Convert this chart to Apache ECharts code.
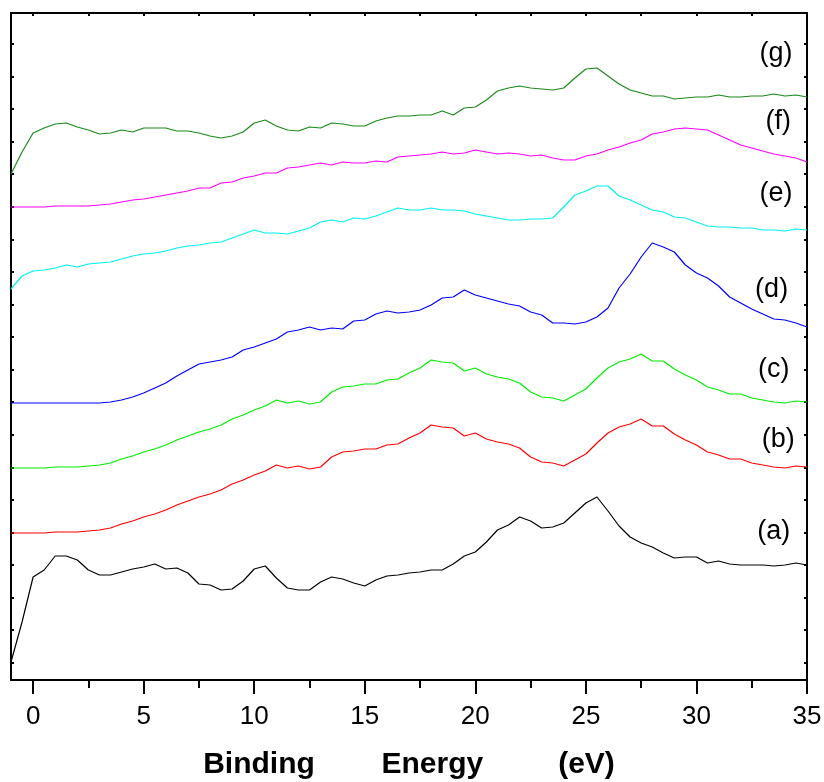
<!DOCTYPE html>
<html>
<head>
<meta charset="utf-8">
<script src="https://cdn.jsdelivr.net/npm/echarts@6/dist/echarts.min.js"></script>
<style>
  html, body { margin: 0; padding: 0; background: #fff; }
  #main { width: 824px; height: 782px; }
</style>
</head>
<body>
<div id="main"></div>
<script>
// binding energy grid (eV), step 0.5
var energy = [-1, -0.5, 0, 0.5, 1, 1.5, 2, 2.5, 3, 3.5, 4, 4.5, 5, 5.5, 6, 6.5, 7, 7.5, 8, 8.5,
    9, 9.5, 10, 10.5, 11, 11.5, 12, 12.5, 13, 13.5, 14, 14.5, 15, 15.5, 16, 16.5, 17, 17.5, 18, 18.5,
    19, 19.5, 20, 20.5, 21, 21.5, 22, 22.5, 23, 23.5, 24, 24.5, 25, 25.5, 26, 26.5, 27, 27.5, 28, 28.5,
    29, 29.5, 30, 30.5, 31, 31.5, 32, 32.5, 33, 33.5, 34, 34.5, 35];

// intensity, arbitrary units (curves already offset as in the figure)
var curveA = [18, 58, 103, 110, 124, 124, 120, 110, 105, 105, 108, 111, 113, 116, 111, 112, 107, 96, 95, 90,
    91, 99, 111, 114, 102, 92, 90, 90, 98, 103, 101, 97, 94, 100, 104, 105, 107, 108, 110, 110,
    116, 124, 128, 138, 150, 155, 163, 159, 152, 153, 157, 167, 177, 183, 169, 154, 143, 137, 133, 127,
    122, 123, 123, 117, 119, 116, 115, 115, 115, 114, 115, 117, 115];
var curveB = [147, 147, 147, 147, 148, 148, 148, 149, 150, 152, 156, 159, 163, 166, 170, 175, 179, 183, 186, 190,
    196, 200, 205, 209, 215, 212, 214, 211, 213, 223, 228, 229, 231, 231, 235, 236, 242, 247, 255, 253,
    252, 244, 247, 241, 238, 236, 232, 223, 218, 217, 214, 220, 226, 237, 247, 253, 256, 261, 254, 254,
    246, 240, 235, 228, 225, 221, 221, 217, 215, 213, 212, 214, 213];
var curveC = [212, 212, 212, 212, 213, 213, 213, 214, 215, 217, 221, 224, 228, 231, 235, 240, 244, 248, 251, 255,
    261, 265, 270, 274, 280, 277, 279, 276, 278, 288, 293, 294, 296, 296, 300, 301, 307, 312, 320, 318,
    317, 309, 312, 306, 303, 301, 297, 288, 283, 282, 279, 285, 291, 302, 312, 318, 321, 326, 319, 319,
    311, 305, 300, 293, 290, 286, 286, 282, 280, 278, 277, 279, 278];
var curveD = [277, 277, 277, 277, 277, 277, 277, 277, 277, 278, 280, 283, 287, 292, 297, 304, 310, 316, 318, 320,
    323, 330, 333, 337, 341, 348, 350, 353, 350, 352, 351, 359, 360, 366, 369, 367, 368, 370, 375, 382,
    383, 390, 385, 382, 379, 376, 374, 368, 365, 357, 357, 356, 358, 363, 372, 392, 406, 423, 437, 433,
    428, 415, 407, 402, 394, 383, 377, 371, 366, 361, 360, 357, 353];
var curveE = [391, 404, 409, 410, 412, 415, 413, 416, 417, 418, 421, 424, 426, 427, 429, 432, 434, 435, 437, 438,
    442, 446, 450, 447, 447, 446, 449, 452, 458, 460, 458, 462, 461, 464, 468, 472, 470, 470, 472, 470,
    470, 469, 466, 464, 462, 460, 460, 461, 461, 462, 473, 485, 489, 494, 494, 484, 480, 475, 470, 468,
    463, 462, 458, 454, 453, 453, 452, 452, 450, 450, 449, 451, 450];
var curveF = [473, 473, 473, 473, 474, 474, 474, 474, 475, 476, 478, 480, 481, 483, 485, 487, 489, 492, 492, 497,
    498, 502, 504, 507, 507, 512, 513, 515, 517, 515, 518, 517, 517, 519, 518, 523, 524, 525, 526, 528,
    526, 527, 530, 528, 526, 527, 526, 524, 525, 522, 520, 520, 524, 526, 530, 533, 537, 540, 546, 548,
    551, 552, 551, 550, 545, 540, 535, 532, 529, 526, 524, 522, 518];
var curveG = [506, 528, 547, 552, 556, 557, 553, 550, 546, 547, 550, 548, 552, 552, 552, 549, 549, 547, 544, 542,
    544, 548, 557, 560, 554, 550, 549, 553, 552, 557, 556, 554, 554, 559, 562, 564, 564, 565, 565, 569,
    565, 572, 573, 580, 589, 592, 594, 592, 591, 590, 592, 602, 611, 612, 604, 596, 590, 587, 584, 584,
    581, 582, 583, 583, 585, 583, 583, 584, 584, 586, 584, 585, 583];

var curveNames = ['(a)', '(b)', '(c)', '(d)', '(e)', '(f)', '(g)'];
var curveColors = ['#000000', '#ff0000', '#00ee00', '#0000ff', '#00f0f0', '#ff00ff', '#1a8a1a'];
var curveData = [curveA, curveB, curveC, curveD, curveE, curveF, curveG];
// where the (a)..(g) tags sit, in data units
var tagX = [33.5, 33.7, 33.5, 33.4, 33.6, 33.7, 33.6];
var tagY = [148, 240, 310, 390, 486, 558, 626];

var xMajor = [0, 5, 10, 15, 20, 25, 30, 35];
var xMinor = [2.5, 7.5, 12.5, 17.5, 22.5, 27.5, 32.5];
var xTop = [0, 2.5, 5, 7.5, 10, 12.5, 15, 17.5, 20, 22.5, 25, 27.5, 30, 32.5, 35];
var yTicks = [17, 50, 82, 115, 147, 180, 212, 245, 278, 310, 343, 375, 408, 440, 473, 506, 538, 571, 603, 636];

function pairs(ys) {
    var out = [];
    for (var i = 0; i < energy.length; i++) {
        out.push([energy[i], ys[i]]);
    }
    return out;
}

var series = [];
for (var k = 0; k < curveData.length; k++) {
    series.push({
        name: curveNames[k],
        type: 'line',
        data: pairs(curveData[k]),
        showSymbol: false,
        smooth: false,
        lineStyle: {color: curveColors[k], width: 1.2},
        itemStyle: {color: curveColors[k]},
        markPoint: {
            symbol: 'circle',
            symbolSize: 1,
            itemStyle: {color: 'rgba(0,0,0,0)'},
            label: {
                show: true,
                position: 'inside',
                formatter: curveNames[k],
                color: '#000',
                fontSize: 27,
                fontFamily: 'Liberation Sans, Arial, sans-serif'
            },
            data: [{coord: [tagX[k], tagY[k]]}]
        }
    });
}

var font = 'Liberation Sans, Arial, sans-serif';
var dom = document.getElementById('main');
var myChart = echarts.init(dom);

var option = {
    animation: false,
    backgroundColor: '#fff',
    grid: {left: 11, right: 17, top: 13, bottom: 102, containLabel: false, outerBoundsMode: 'none'},
    xAxis: [
        {
            type: 'value', position: 'bottom', min: -1, max: 35,
            axisLine: {show: true, onZero: false, lineStyle: {color: '#000', width: 2}},
            axisTick: {show: true, customValues: xMajor, length: 14, lineStyle: {color: '#000', width: 2}},
            axisLabel: {show: true, customValues: xMajor, margin: 24, color: '#000', fontSize: 26, fontFamily: font},
            splitLine: {show: false},
            name: 'Binding        Energy         (eV)',
            nameLocation: 'middle',
            nameGap: 70,
            nameTextStyle: {color: '#000', fontSize: 30, fontWeight: 'bold', fontFamily: font}
        },
        {
            type: 'value', position: 'bottom', min: -1, max: 35,
            axisLine: {show: false, onZero: false},
            axisTick: {show: true, customValues: xMinor, length: 8, lineStyle: {color: '#000', width: 2}},
            axisLabel: {show: false},
            splitLine: {show: false}
        },
        {
            type: 'value', position: 'top', min: -1, max: 35,
            axisLine: {show: true, onZero: false, lineStyle: {color: '#000', width: 2}},
            axisTick: {show: true, inside: true, customValues: xTop, length: 3, lineStyle: {color: '#000', width: 2}},
            axisLabel: {show: false},
            splitLine: {show: false}
        }
    ],
    yAxis: [
        {
            type: 'value', position: 'left', min: 0, max: 667,
            axisLine: {show: true, onZero: false, lineStyle: {color: '#000', width: 2}},
            axisTick: {show: true, inside: true, customValues: yTicks, length: 3, lineStyle: {color: '#000', width: 2}},
            axisLabel: {show: false},
            splitLine: {show: false}
        },
        {
            type: 'value', position: 'right', min: 0, max: 667,
            axisLine: {show: true, onZero: false, lineStyle: {color: '#000', width: 2}},
            axisTick: {show: true, inside: true, customValues: yTicks, length: 3, lineStyle: {color: '#000', width: 2}},
            axisLabel: {show: false},
            splitLine: {show: false}
        }
    ],
    series: series
};

myChart.setOption(option);
</script>
</body>
</html>
